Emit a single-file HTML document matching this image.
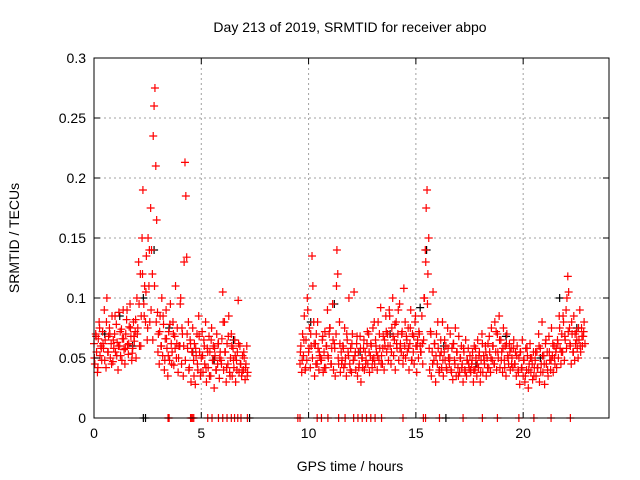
<!DOCTYPE html>
<html><head><meta charset="utf-8"><style>
body{margin:0;background:#fff}
svg{display:block;font-family:"Liberation Sans",sans-serif}
</style></head><body>
<svg id="chart" width="640" height="480" viewBox="0 0 640 480">
<rect width="640" height="480" fill="#fff"/>
<g id="grid"></g>
<g id="marks"></g>
<rect x="94" y="58" width="515" height="360" fill="none" stroke="#000" stroke-width="1"/>
<g id="axes"></g>
<text x="350" y="32" text-anchor="middle" font-size="14">Day 213 of 2019, SRMTID for receiver abpo</text>
<text x="350" y="471" text-anchor="middle" font-size="14">GPS time / hours</text>
<text transform="translate(19,238) rotate(-90)" text-anchor="middle" font-size="14">SRMTID / TECUs</text>
</svg>
<script>
const xTicks=[0,5,10,15,20];
const yTicks=[0,0.05,0.1,0.15,0.2,0.25,0.3];
const yTickLabels=["0","0.05","0.1","0.15","0.2","0.25","0.3"];
const segAStart=0.0, segBStart=9.6, sampleStep=0.04;
const segA2Start=0.02, segB2Start=9.62, sampleStep2=0.08;
const segAValues=[62,45,70,55,38,66,80,52,60,48,72,58,90,65,42,100,55,68,75,50,62,85,47,58,70,
55,78,63,40,88,60,52,74,66,90,57,45,70,82,61,53,76,95,68,48,58,80,64,72,50,
100,75,130,60,120,85,150,190,95,110,80,135,65,150,110,80,175,140,120,235,260,275,210,165,88,
70,45,85,60,100,52,78,40,66,90,58,35,72,48,95,62,55,80,44,68,110,50,75,38,60,
60,100,45,70,35,130,213,185,134,58,80,42,65,30,55,75,48,62,28,52,70,40,85,55,35,
50,72,38,65,45,80,30,58,42,68,55,35,75,48,60,25,52,40,70,45,62,33,55,48,66,
105,40,80,55,30,62,45,85,38,50,70,35,58,42,65,30,48,55,98,38,60,45,35,52,40,
50,32,45,60,38];
const segBValues=[45,60,38,70,52,85,40,65,48,90,55,75,42,60,135,110,80,35,62,70,45,58,40,52,50,
48,65,38,55,72,42,60,90,50,70,75,45,58,95,40,62,35,70,140,120,45,80,38,55,48,
60,42,75,50,35,65,55,100,45,58,38,70,48,105,52,40,62,35,55,45,68,30,50,42,58,
40,55,48,62,45,70,38,52,60,42,75,50,45,65,55,40,80,48,58,92,52,45,68,40,60,
85,55,70,48,90,60,45,75,100,52,65,40,80,58,70,48,95,62,55,72,45,108,60,50,68,
55,75,40,62,90,48,70,55,45,80,60,38,65,50,70,60,55,85,45,65,100,140,175,190,120,
150,40,72,35,55,105,48,62,30,70,45,58,38,52,65,42,80,35,55,48,60,40,75,50,45,
70,40,58,32,62,48,75,35,55,42,68,38,50,60,45,30,55,40,65,35,48,58,42,52,38,
45,55,30,60,40,50,35,65,42,55,30,48,70,38,52,45,60,35,50,62,42,55,38,75,48,
60,45,80,55,40,70,50,85,42,65,55,38,75,48,60,35,70,52,45,62,40,58,50,42,65,
45,55,35,60,40,50,28,55,42,65,35,48,30,58,40,52,25,45,62,38,50,32,55,42,48,
35,55,42,70,30,58,45,80,38,52,28,62,45,55,35,68,48,40,75,52,38,60,45,55,42,
65,50,85,58,45,70,55,80,48,65,90,100,118,105,75,60,45,70,55,85,48,62,72,58,50,
65,90,55,75,60,68,80,62];
const segA2Values=[50,68,42,75,58,62,48,80,55,70,45,65,85,52,60,72,48,66,58,90,62,75,54,68,82,
70,95,60,120,85,105,75,140,90,65,110,80,55,72,60,85,48,66,52,78,45,70,58,62,50,
95,75,60,48,70,40,62,55,35,58,45,68,38,52,60,42,55,35,65,48,58,40,62,50,45,
80,55,42,68,35,60,48,52,40,62,45,38,55,42,35];
const segB2Values=[55,48,65,42,100,58,70,50,62,45,80,55,48,68,42,60,52,75,45,65,58,110,50,62,45,
58,45,70,52,40,62,48,55,68,42,58,50,65,45,72,55,62,48,80,60,52,70,45,58,65,
72,60,85,55,68,78,62,90,58,70,52,80,65,58,75,48,68,85,60,72,55,62,100,130,95,
58,70,45,62,52,80,40,55,48,65,42,58,50,38,62,45,55,35,50,42,58,38,48,45,40,
48,40,58,45,52,38,62,48,55,42,68,50,60,45,72,55,65,48,58,42,62,50,55,45,58,
45,52,38,55,42,48,35,58,40,50,45,35,55,42,60,38,52,45,65,40,55,48,62,50,58,
62,75,55,85,68,58,72,62,80,55,70,65,75,60,68,72];
const blackTimes=[0.5,1.2,1.8,2.3,2.8,3.5,4.6,5.6,6.5,10.1,11.2,12.4,13.8,15.2,15.5,16.3,17.8,19.2,20.8,21.7,22.5];
const blackValues=[70,85,60,100,140,75,55,48,65,80,95,55,70,92,140,60,45,68,50,100,75];
const zeroTimesRed=[3.45,3.5,4.5,4.55,4.6,4.65,5.3,5.5,5.8,6.0,6.2,6.4,6.55,6.7,6.85,7.15,9.5,9.6,10.4,10.6,10.9,11.4,11.7,12.1,12.3,12.5,12.7,12.9,13.1,13.4,14.4,15.35,15.45,16.1,17.2,18.1,18.8,19.8,20.5,21.3,22.2];
const zeroTimesBlack=[2.3,2.4,7.25,16.4];

const X0=94,X1=609,Y0=418,Y1=58;
const xs=t=>X0+(t/24)*(X1-X0);
const ys=v=>Y0-(v/0.3)*(Y0-Y1);
const NS="http://www.w3.org/2000/svg";
const grid=document.getElementById('grid'),axes=document.getElementById('axes'),marks=document.getElementById('marks');
function mk(tag,attrs,parent){const e=document.createElementNS(NS,tag);for(const k in attrs)e.setAttribute(k,attrs[k]);parent.appendChild(e);return e;}
xTicks.forEach(t=>{
  const x=xs(t);
  if(t>0){const g=mk('line',{x1:x,x2:x,y1:Y1,y2:Y0,stroke:'#a0a0a0','stroke-dasharray':'2,3'},grid);
  
  }
  const tk=mk('path',{d:`M${x},${Y0}v-6M${x},${Y1}v6`,stroke:'#000'},axes);
  
  
  const l=mk('text',{x:x,y:Y0+20,'text-anchor':'middle','font-size':14},axes);
  l.textContent=String(t);
  
  
});
yTicks.forEach((v,i)=>{
  const y=ys(v);
  if(i>0&&i<yTicks.length-1){const g=mk('line',{x1:X0,x2:X1,y1:y,y2:y,stroke:'#a0a0a0','stroke-dasharray':'2,3'},grid);
  
  }
  const tk=mk('path',{d:`M${X0},${y}h6M${X1},${y}h-6`,stroke:'#000'},axes);
  
  
  const l=mk('text',{x:X0-8,y:y+5,'text-anchor':'end','font-size':14},axes);
  l.textContent=yTickLabels[i];
  
  
});
function plus(t,v,color,name){
  const x=xs(t),y=ys(v);
  const p=mk('path',{d:`M${x-4},${y}h8M${x},${y-4}v8`,stroke:color,'stroke-width':1.2},marks);
  
  
}
blackTimes.forEach((t,i)=>plus(t,blackValues[i]/1000,'#000','black-point'));
zeroTimesBlack.forEach(t=>plus(t,0,'#000','black-zero-point'));
segAValues.forEach((v,i)=>plus(segAStart+i*sampleStep,v/1000,'#f00','red-point'));
segBValues.forEach((v,i)=>plus(segBStart+i*sampleStep,v/1000,'#f00','red-point'));
segA2Values.forEach((v,i)=>plus(segA2Start+i*sampleStep2,v/1000,'#f00','red-point'));
segB2Values.forEach((v,i)=>plus(segB2Start+i*sampleStep2,v/1000,'#f00','red-point'));
zeroTimesRed.forEach(t=>plus(t,0,'#f00','red-zero-point'));
</script>
</body></html>
